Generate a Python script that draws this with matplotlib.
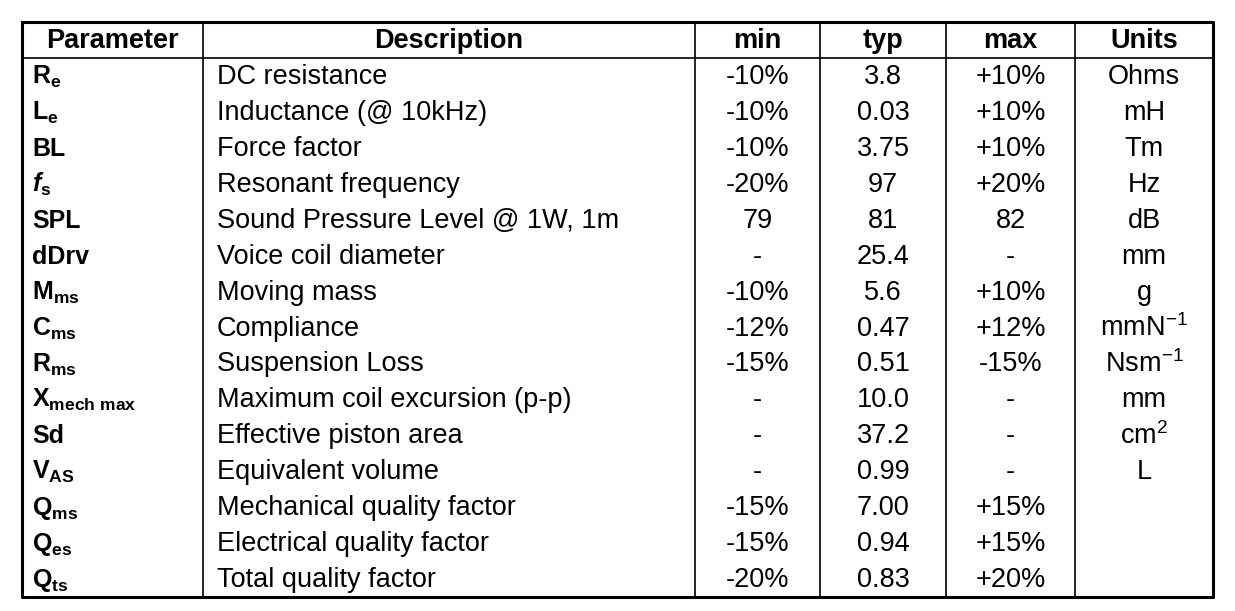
import matplotlib
matplotlib.use("Agg")
import matplotlib.pyplot as plt

plt.rcParams['font.family'] = ['Liberation Sans', 'DejaVu Sans']
plt.rcParams['mathtext.fontset'] = 'custom'
plt.rcParams['mathtext.rm'] = 'Liberation Sans'
plt.rcParams['mathtext.bf'] = 'Liberation Sans:bold'
plt.rcParams['mathtext.it'] = 'Liberation Sans:italic'
plt.rcParams['mathtext.bfit'] = 'Liberation Sans:bold:italic'

headers = ["Parameter", "Description", "min", "typ", "max", "Units"]
params = [r"$\mathbf{R}_{\mathbf{e}}$", r"$\mathbf{L}_{\mathbf{e}}$", "BL",
          r"$\mathbfit{f}_{\mathbf{s}}$", "SPL", "dDrv",
          r"$\mathbf{M}_{\mathbf{ms}}$", r"$\mathbf{C}_{\mathbf{ms}}$",
          r"$\mathbf{R}_{\mathbf{ms}}$", r"$\mathbf{X}_{\mathbf{mech\ max}}$",
          "Sd", r"$\mathbf{V}_{\mathbf{AS}}$", r"$\mathbf{Q}_{\mathbf{ms}}$",
          r"$\mathbf{Q}_{\mathbf{es}}$", r"$\mathbf{Q}_{\mathbf{ts}}$"]
descriptions = ["DC resistance", "Inductance (@ 10kHz)", "Force factor",
                "Resonant frequency", "Sound Pressure Level @ 1W, 1m",
                "Voice coil diameter", "Moving mass", "Compliance",
                "Suspension Loss", "Maximum coil excursion (p-p)",
                "Effective piston area", "Equivalent volume",
                "Mechanical quality factor", "Electrical quality factor",
                "Total quality factor"]
mins = ["-10%", "-10%", "-10%", "-20%", "79", "-", "-10%", "-12%", "-15%",
        "-", "-", "-", "-15%", "-15%", "-20%"]
typs = ["3.8", "0.03", "3.75", "97", "81", "25.4", "5.6", "0.47", "0.51",
        "10.0", "37.2", "0.99", "7.00", "0.94", "0.83"]
maxs = ["+10%", "+10%", "+10%", "+20%", "82", "-", "+10%", "+12%", "-15%",
        "-", "-", "-", "+15%", "+15%", "+20%"]
units = ["Ohms", "mH", "Tm", "Hz", "dB", "mm", "g", r"mmN$^{\mathregular{-1}}$",
         r"Nsm$^{\mathregular{-1}}$", "mm", r"cm$^{\mathregular{2}}$", "L", "", "", ""]

W, H = 1235, 611
fig = plt.figure(figsize=(W / 100, H / 100), dpi=100)
ax = fig.add_axes([0, 0, 1, 1])
ax.set_xlim(0, W)
ax.set_ylim(H, 0)
ax.axis('off')

cols = [22, 203, 695, 820, 946, 1075, 1213]
top, head_bot, bot = 22, 58, 597
n = len(params)
rh = (bot - head_bot) / n

# grid
ax.plot([cols[0], cols[-1], cols[-1], cols[0], cols[0]], [top, top, bot, bot, top],
        color='black', lw=2.2)
for x in cols[1:-1]:
    ax.plot([x, x], [top, bot], color='black', lw=1.2)
ax.plot([cols[0], cols[-1]], [head_bot, head_bot], color='black', lw=1.2)

fs = 19.5
for j, h in enumerate(headers):
    ax.text((cols[j] + cols[j + 1]) / 2, (top + head_bot) / 2 + 1, h,
            ha='center', va='center', fontsize=fs, fontweight='bold')

for i in range(n):
    y = head_bot + rh * (i + 0.5) + 1
    ax.text(cols[0] + 10, y, params[i], ha='left', va='center',
            fontsize=18, fontweight='bold')
    ax.text(cols[1] + 14, y, descriptions[i], ha='left', va='center', fontsize=fs)
    for j, vals in zip([2, 3, 4, 5], [mins, typs, maxs, units]):
        ax.text((cols[j] + cols[j + 1]) / 2, y, vals[i], ha='center',
                va='center', fontsize=fs)

fig.savefig("out.png", dpi=100, facecolor='white')
